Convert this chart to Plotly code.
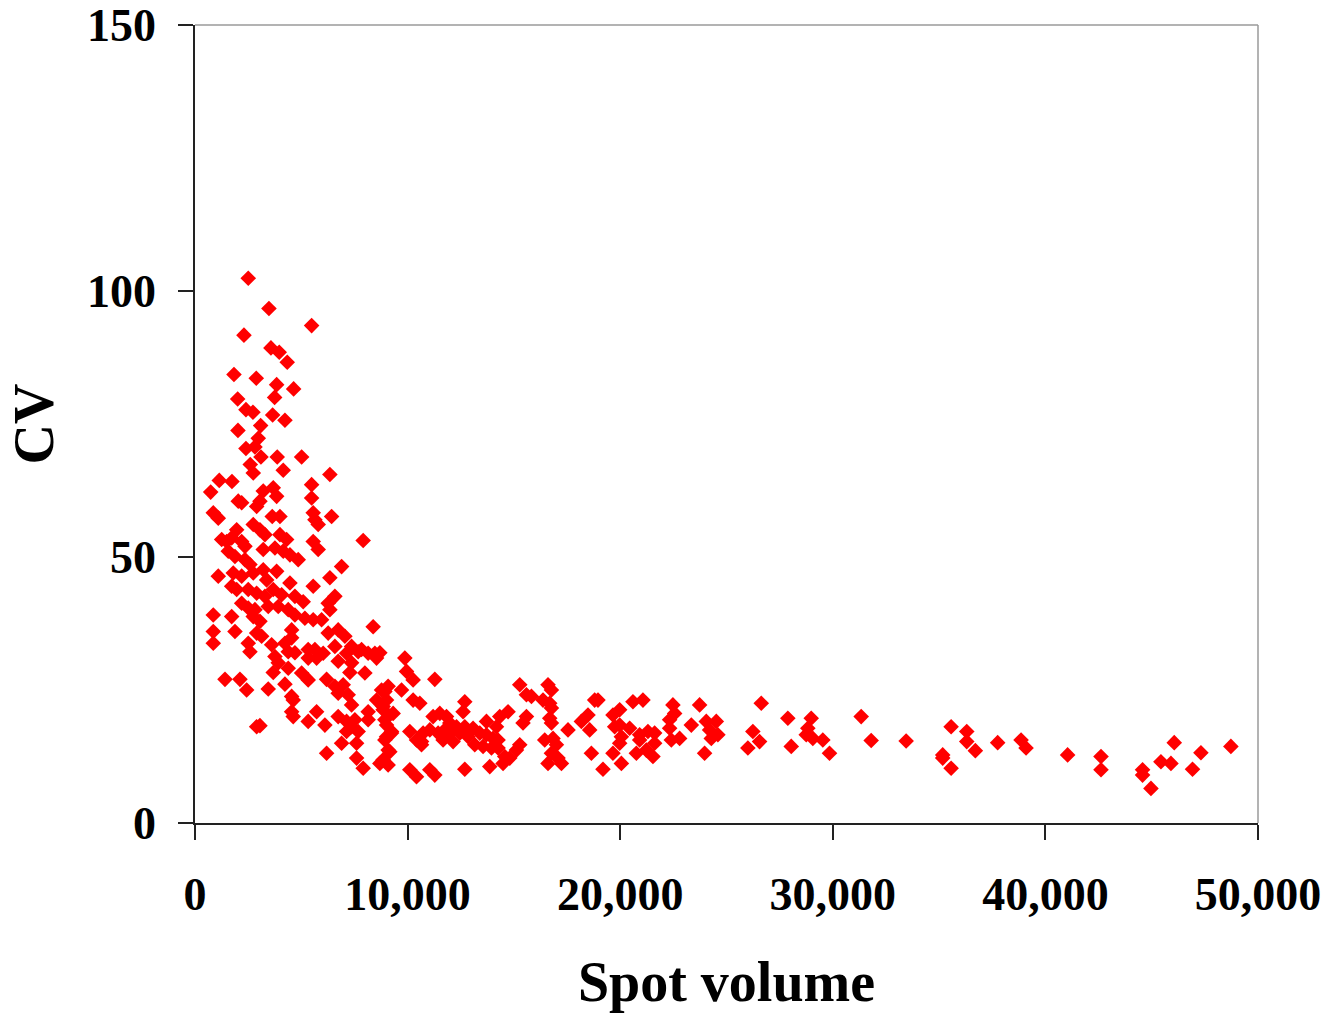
import plotly.graph_objects as go

# Spot volume vs coefficient of variation for each detected spot
spot_volume = [
    2505, 3478, 5485, 2303, 3572, 3962, 4338, 1833, 2881, 3840, 4639, 2007, 3746, 2397, 2726,
    3652, 4230, 3088, 2021, 2975, 2397, 2820, 3102, 3868, 5015, 2599, 4150, 2740, 6345, 1142,
    1739, 738, 3210, 3680, 3840, 5485, 5485, 2035, 2195, 2900, 3055, 860, 1095, 3633, 3995,
    5560, 5640, 5795, 6425, 1960, 2740, 3055, 3290, 3995, 4310, 1255, 1490, 1725, 2195, 2350,
    5560, 5795, 7910, 3210, 3760, 4150, 4465, 4855, 1565, 1880, 2350, 2585, 6895, 1095, 1800,
    2195, 2740, 3210, 3370, 3840, 4465, 6345, 5560, 1725, 1960, 2505, 2900, 3290, 3680, 4075,
    4700, 5090, 6580, 6265, 2195, 2505, 2820, 3445, 3915, 4385, 860, 1725, 2740, 3055, 4700,
    5170, 5560, 5955, 6345, 8380, 860, 1880, 2900, 3135, 4545, 4545, 6265, 6735, 7050, 860,
    2505, 2585, 3605, 4230, 4385, 5325, 5640, 6030, 6580, 7365, 7835, 8460, 3760, 3915, 6735,
    7365, 4700, 5325, 5720, 7130, 7675, 8145, 8540, 3680, 4385, 5015, 5325, 7285, 7990, 1410,
    2115, 2430, 3445, 4230, 6190, 6580, 6970, 6735, 7205, 4545, 4620, 8775, 9085, 8540, 9010,
    7365, 4545, 4620, 5720, 5325, 6110, 6735, 7130, 7365, 7520, 8145, 8145, 8850, 8930, 3055,
    2900, 7130, 7675, 9010, 9245, 6895, 7600, 6190, 9085, 7600, 7910, 8695, 9085,
    8695, 9870, 9950, 10260, 11280, 8930, 8850, 9320, 9715, 10260, 10575,
    15275, 15590, 15825, 16605, 16765, 16370, 16685, 16765, 18800, 18955, 12690, 12610, 14725,
    14335, 14180, 15590, 15430, 16685, 16765, 18485, 18175, 18565, 19660, 13710, 11200, 11515,
    11830, 11985, 11750, 11435, 11045, 10730, 10655, 12300, 12690, 12455, 12845, 13080, 13395,
    13710, 14020, 14255, 9010, 9245, 8930, 9165, 8850, 10105, 10420, 10655, 11670, 11985,
    12140, 13160, 13550, 13945, 14255, 15275, 15120, 16450, 16840, 17000, 16765, 17075, 16605,
    17235, 17545, 14570, 14805, 14490, 18645, 19660, 10105, 10420, 11045, 11280, 12690, 13865,
    19190, 19740,
    19975, 20600, 21070, 19975, 20445, 20055, 19975, 20055, 20915, 21305, 21620, 20915, 21620,
    20760, 21230, 21540, 22480, 22560, 22325, 22325, 22405, 22795, 23735, 23345, 24050, 24520,
    24205, 24595, 24285, 23970, 26635, 26240, 26555, 26005, 27885, 28985, 28825, 28750, 29060,
    29530, 28045, 29845, 31335, 31805,
    33450, 35565, 36300, 36300, 35170, 35170, 35565, 36705, 37755, 38855, 39090, 41045, 42615,
    42615, 44570, 44570, 44965, 45435, 45905, 46060, 46920, 47315, 48725,
]

cv = [
    102.4, 96.7, 93.5, 91.7, 89.3, 88.5, 86.6, 84.3, 83.6, 82.4, 81.6, 79.7, 80.0, 77.7, 77.2,
    76.7, 75.7, 74.7, 73.8, 72.3, 70.4, 70.7, 68.8, 68.8, 68.8, 67.4, 66.3, 65.8, 65.5, 64.4,
    64.2, 62.2, 62.4, 63.0, 61.4, 63.6, 61.1, 60.5, 60.2, 59.5, 60.5, 58.3, 57.3, 57.6, 57.6,
    58.3, 57.0, 56.1, 57.6, 55.1, 56.1, 55.1, 54.2, 54.2, 53.3, 53.3, 52.9, 53.6, 52.9, 52.0,
    52.9, 51.4, 53.1, 51.4, 51.7, 51.1, 50.4, 49.5, 51.1, 50.1, 49.5, 48.6, 48.2, 46.4, 47.0,
    46.4, 47.0, 47.6, 45.7, 47.3, 45.1, 46.1, 44.5, 44.5, 43.9, 43.9, 43.2, 42.6, 43.9, 42.9,
    42.6, 41.6, 42.6, 41.3, 41.3, 40.4, 40.1, 40.7, 40.7, 40.1, 39.1, 38.8, 38.8, 37.9, 39.1,
    38.5, 38.2, 38.2, 40.1, 36.9, 36.0, 36.0, 35.7, 35.1, 36.3, 34.8, 35.7, 36.3, 35.1, 33.8,
    33.8, 32.2, 33.5, 33.8, 32.2, 32.6, 32.6, 31.9, 33.2, 33.2, 32.6, 31.9, 31.3, 30.1, 30.4,
    30.1, 32.0, 31.0, 31.0, 31.9, 32.2, 31.9, 31.0, 28.3, 29.1, 28.2, 26.9, 28.3, 28.2, 27.0,
    27.0, 25.0, 25.2, 26.1, 27.0, 25.7, 26.0, 24.4, 24.1, 23.8, 23.1, 25.0, 25.7, 23.1, 23.1,
    22.2, 20.9, 20.0, 20.9, 19.1, 18.4, 20.0, 19.1, 18.1, 19.4, 20.9, 19.4, 21.3, 19.4, 18.3,
    18.1, 17.2, 17.2, 16.2, 16.9, 15.0, 15.0, 13.1, 13.7, 12.2, 10.3, 11.2, 10.9,
    32.0, 31.0, 28.5, 26.9, 27.0, 24.7, 21.9, 20.6, 25.0, 23.1, 22.5,
    26.0, 24.1, 23.8, 26.0, 25.0, 23.1, 22.5, 21.6, 23.1, 23.1, 22.8, 20.9, 20.9,
    20.0, 18.1, 20.0, 18.8, 19.7, 18.8, 20.3, 19.1, 17.5, 20.3, 19.1, 20.0, 20.6,
    20.0, 18.8, 17.5, 16.9, 17.5, 16.9, 15.3, 18.1, 18.1, 16.9, 16.2, 17.8, 16.9,
    16.6, 15.9, 15.6, 18.4, 17.2, 15.6, 13.4, 11.9, 17.2, 15.6, 14.7, 15.6, 16.9,
    15.3, 14.7, 14.4, 14.1, 14.1, 14.7, 13.7, 15.6, 15.9, 14.7, 13.1, 12.2, 11.2,
    11.2, 17.5, 12.5, 12.2, 11.2, 13.1, 13.1, 10.0, 8.7, 10.0, 9.0, 10.1, 10.6,
    10.1, 18.1,
    21.3, 22.8, 23.1, 18.4, 17.8, 16.2, 15.0, 11.2, 16.6, 17.2, 16.9, 15.6, 15.0,
    13.1, 13.7, 12.5, 22.2, 20.6, 19.4, 17.8, 15.6, 15.9, 22.2, 18.4, 19.1, 19.1,
    17.5, 16.6, 15.9, 13.1, 22.5, 17.2, 15.3, 14.1, 19.7, 19.7, 17.8, 16.6, 15.9,
    15.6, 14.4, 13.1, 20.0, 15.5,
    15.4, 18.1, 17.2, 15.3, 12.8, 12.2, 10.3, 13.6, 15.1, 15.6, 14.1, 12.8, 12.5,
    10.0, 10.0, 9.0, 6.5, 11.5, 11.2, 15.1, 10.1, 13.2, 14.4,
]

x_ticks = [0, 10000, 20000, 30000, 40000, 50000]
y_ticks = [0, 50, 100, 150]

serif = "Liberation Serif, Times New Roman, serif"
axis_color = "#222222"
frame_color = "#9a9a9a"

fig = go.Figure()
fig.add_trace(go.Scatter(
    x=spot_volume,
    y=cv,
    mode="markers",
    marker=dict(symbol="diamond", size=12, color="#ff0000", line=dict(width=0)),
    showlegend=False,
))

# light frame on the top and right sides of the plot area
fig.add_shape(type="line", xref="paper", yref="paper", x0=0, x1=1, y0=1, y1=1,
              line=dict(color=frame_color, width=1.5), layer="below")
fig.add_shape(type="line", xref="paper", yref="paper", x0=1, x1=1, y0=0, y1=1,
              line=dict(color=frame_color, width=1.5), layer="below")

fig.update_layout(
    width=1340,
    height=1013,
    margin=dict(l=195, r=82, t=25, b=190, autoexpand=False),
    paper_bgcolor="white",
    plot_bgcolor="white",
    font=dict(family=serif, color="black"),
    xaxis=dict(
        range=[0, 50000],
        tickvals=x_ticks,
        tickformat=",d",
        showgrid=False,
        zeroline=False,
        showline=True,
        linecolor=axis_color,
        linewidth=1.5,
        ticks="outside",
        ticklen=15,
        tickwidth=1.5,
        tickcolor=axis_color,
        ticklabelstandoff=15,
        tickfont=dict(family=serif, size=46, weight="bold", color="black"),
        title=dict(text="Spot volume", font=dict(family=serif, size=56, weight="bold", color="black"),
                   standoff=44),
    ),
    yaxis=dict(
        range=[0, 150],
        tickvals=y_ticks,
        showgrid=False,
        zeroline=False,
        showline=True,
        linecolor=axis_color,
        linewidth=1.5,
        ticks="outside",
        ticklen=15,
        tickwidth=1.5,
        tickcolor=axis_color,
        ticklabelstandoff=13,
        tickfont=dict(family=serif, size=46, weight="bold", color="black"),
        title=dict(text="CV", font=dict(family=serif, size=56, weight="bold", color="black"),
                   standoff=15),
    ),
)

fig.write_html("out.html")
